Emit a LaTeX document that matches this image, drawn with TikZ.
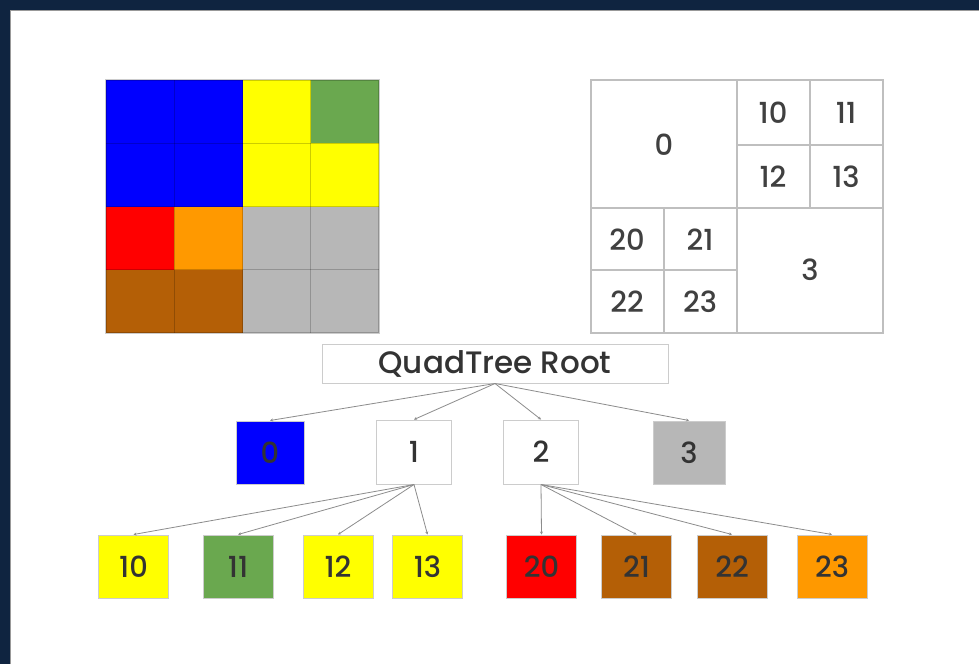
\documentclass[tikz,border=0pt]{standalone}
\usepackage{fontspec}
\setmainfont{Poppins}[UprightFont={* Medium}]
\usetikzlibrary{arrows.meta, positioning}
\definecolor{frameblue}{HTML}{0F2440}
\definecolor{qblue}{HTML}{0000FF}
\definecolor{qyellow}{HTML}{FFFF00}
\definecolor{qgreen}{HTML}{6AA84F}
\definecolor{qred}{HTML}{FF0000}
\definecolor{qorange}{HTML}{FF9900}
\definecolor{qgray}{HTML}{B7B7B7}
\definecolor{qbrown}{HTML}{B45F06}

\begin{document}
\begin{tikzpicture}[
    x=1pt, y=-1pt, >={Stealth[length=3pt,width=3pt]},
    cell/.style={draw=black!25, line width=1.2pt},
    colcell/.style={draw=black, draw opacity=0.2, line width=1.2pt},
    cellnum/.style={font=\fontsize{29}{29}\selectfont, text=black!75},
    qnode/.style={draw=black!20, line width=1pt, minimum width=72pt,
                  minimum height=63pt, inner sep=0pt,
                  font=\fontsize{29}{29}\selectfont, text=black!80},
    leafnode/.style={qnode, minimum width=70pt},
    link/.style={->, draw=black!45, line width=0.8pt}
  ]
  \useasboundingbox (0,0) rectangle (979,664);
  \fill[frameblue] (0,0) rectangle (979,664);
  \fill[white] (10,10) rectangle (979,664);
  \draw[black!40, line width=1pt] (10,664) -- (10,10) -- (979,10);

  % colour grid
  \foreach \c [count=\i from 0] in {qblue,qblue,qyellow,qgreen,
      qblue,qblue,qyellow,qyellow, qred,qorange,qgray,qgray,
      qbrown,qbrown,qgray,qgray} {
    \pgfmathtruncatemacro{\col}{mod(\i,4)}
    \pgfmathtruncatemacro{\row}{\i/4}
    \fill[\c] ({106+68.25*\col},{80+63.25*\row})
      rectangle ++(68.25,63.25);
  }
  \foreach \k in {1,2,3} {
    \draw[colcell] ({106+68.25*\k},80) -- ++(0,253);
    \draw[colcell] (106,{80+63.25*\k}) -- ++(273,0);
  }
  \draw[colcell] (106,80) rectangle (379,333);

  % numbered grid
  \draw[cell] (591,80) rectangle (883,333);
  \draw[cell] (737,80) -- (737,333) (591,208) -- (883,208);
  \draw[cell] (810,80) -- (810,208) (737,145) -- (883,145);
  \draw[cell] (664,208) -- (664,333) (591,270) -- (737,270);
  \node[cellnum] (g0) at (664,145) {0};
  \node[cellnum] (g10) at (773,113) {10};
  \node[cellnum] (g11) at (846,113) {11};
  \node[cellnum] (g12) at (773,177) {12};
  \node[cellnum] (g13) at (846,177) {13};
  \node[cellnum] (g20) at (627,240) {20};
  \node[cellnum] (g21) at (700,240) {21};
  \node[cellnum] (g22) at (627,302) {22};
  \node[cellnum] (g23) at (700,302) {23};
  \node[cellnum] (g3) at (810,270) {3};

  % tree
  \node[qnode, minimum width=346pt, minimum height=39pt,
        font=\fontsize{31}{31}\selectfont]
    (root) at (495,363.5) {QuadTree Root};
  \node[qnode, fill=qblue, minimum width=68pt] (n0) at (270,452.5) {0};
  \node[qnode, minimum width=75pt, minimum height=64pt] (n1) at (414,452) {1};
  \node[qnode, minimum width=75pt, minimum height=64pt] (n2) at (541,452) {2};
  \node[qnode, fill=qgray] (n3) at (689,452.5) {3};

  \node[leafnode, fill=qyellow] (n10) at (133.5,566.5) {10};
  \node[leafnode, fill=qgreen] (n11) at (238,566.5) {11};
  \node[leafnode, fill=qyellow] (n12) at (338,566.5) {12};
  \node[leafnode, fill=qyellow] (n13) at (427.5,566.5) {13};
  \node[leafnode, fill=qred] (n20) at (541.5,566.5) {20};
  \node[leafnode, fill=qbrown] (n21) at (636.5,566.5) {21};
  \node[leafnode, fill=qbrown] (n22) at (732,566.5) {22};
  \node[leafnode, fill=qorange] (n23) at (832,566.5) {23};

  \foreach \c in {n0,n1,n2,n3}
    \draw[link] (root.south) -- (\c.north);
  \foreach \c in {n10,n11,n12,n13}
    \draw[link] (n1.south) -- (\c.north);
  \foreach \c in {n20,n21,n22,n23}
    \draw[link] (n2.south) -- (\c.north);
\end{tikzpicture}
\end{document}
